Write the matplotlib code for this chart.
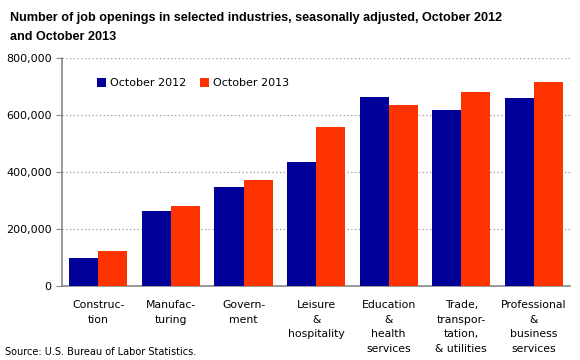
import numpy as np
import matplotlib
matplotlib.use("Agg")
import matplotlib.pyplot as plt
from matplotlib.ticker import FuncFormatter

categories = ["Construc-\ntion", "Manufac-\nturing", "Govern-\nment",
              "Leisure\n&\nhospitality", "Education\n&\nhealth\nservices",
              "Trade,\ntranspor-\ntation,\n& utilities",
              "Professional\n&\nbusiness\nservices"]
oct_2012 = [98000, 263000, 347000, 435000, 663000, 618000, 660000]
oct_2013 = [123000, 281000, 372000, 558000, 635000, 681000, 716000]
yticks = [0, 200000, 400000, 600000, 800000]

plt.rcParams['font.family'] = ['DejaVu Sans']

fig = plt.figure(figsize=(5.8, 3.6), dpi=100)
ax = fig.add_axes([0.107, 0.206, 0.876, 0.633])

x = np.arange(len(categories))
w = 0.4
ax.bar(x - w/2, oct_2012, w, color="#000099", label="October 2012", zorder=3)
ax.bar(x + w/2, oct_2013, w, color="#FF3300", label="October 2013", zorder=3)

ax.set_xlim(-0.5, len(categories) - 0.5)
ax.set_ylim(0, 800000)
ax.set_yticks(yticks)
ax.yaxis.set_major_formatter(FuncFormatter(lambda v, p: f"{int(v):,}"))
ax.grid(axis="y", color="#999999", linestyle=(0, (1, 2)), linewidth=0.9, zorder=0)

ax.set_xticks(x)
ax.set_xticklabels(categories, fontsize=7.8, linespacing=1.6, va="top")
ax.tick_params(axis="x", length=0, pad=10)
ax.tick_params(axis="y", labelsize=8, length=4, color="#888888", direction="out")

for s in ["top", "right"]:
    ax.spines[s].set_visible(False)
for s in ["left", "bottom"]:
    ax.spines[s].set_color("#888888")
    ax.spines[s].set_linewidth(1.2)

ax.legend(loc="upper left", bbox_to_anchor=(0.05, 0.955), ncol=2, frameon=False,
          fontsize=8, handlelength=0.8, handleheight=0.8, handletextpad=0.3,
          columnspacing=1.3)

fig.text(0.017, 0.968, "Number of job openings in selected industries, seasonally adjusted, October 2012\nand October 2013",
         fontsize=9.1, fontweight="bold", va="top", ha="left", linespacing=1.8,
         family=["Liberation Sans", "DejaVu Sans"])
fig.text(0.009, 0.008, "Source: U.S. Bureau of Labor Statistics.", fontsize=7, ha="left", va="bottom")

fig.savefig("out.png", dpi=100)
